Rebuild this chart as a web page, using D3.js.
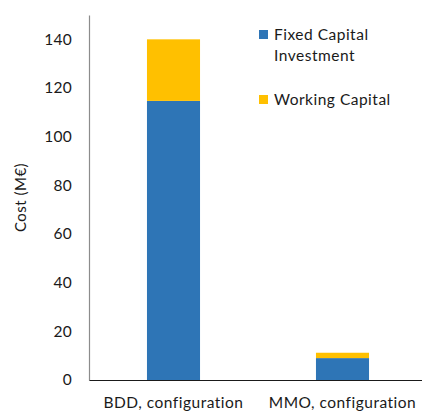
<!DOCTYPE html>
<html>
<head>
<meta charset="utf-8">
<script src="https://cdn.jsdelivr.net/npm/d3@7"></script>
<style>
  body { margin: 0; background: #fff; }
  text { font-family: Lato, "Open Sans", sans-serif; fill: #1a1a1a; }
</style>
</head>
<body>
<script>
// chart values
var categories = ["BDD, configuration", "MMO, configuration"];
var fixedCapital = [114.7, 9.0];
var workingCapital = [25.3, 2.2];
var seriesNames = ["Fixed Capital Investment", "Working Capital"];
var yTicks = [0, 20, 40, 60, 80, 100, 120, 140];

var width = 422, height = 412;
var margin = {top: 15, right: -5, bottom: 32, left: 89};

var colors = ["#2e75b6", "#ffc000"];

var svg = d3.select("body").append("svg")
  .attr("width", width)
  .attr("height", height);

var x = d3.scaleBand()
  .domain(categories)
  .range([margin.left, width - margin.right])
  .paddingInner(0.686)
  .paddingOuter(0.343);

var y = d3.scaleLinear()
  .domain([0, 150])
  .range([height - margin.bottom, margin.top]);

var rows = categories.map(function(c, i) {
  return { cat: c, fixed: fixedCapital[i], working: workingCapital[i] };
});

var stack = d3.stack().keys(["fixed", "working"]);
var layers = stack(rows);

svg.selectAll("g.layer")
  .data(layers)
  .enter().append("g")
  .attr("class", "layer")
  .attr("fill", function(d, i) { return colors[i]; })
  .selectAll("rect")
  .data(function(d) { return d; })
  .enter().append("rect")
  .attr("x", function(d) { return x(d.data.cat); })
  .attr("width", x.bandwidth())
  .attr("y", function(d) { return y(d[1]); })
  .attr("height", function(d) { return y(d[0]) - y(d[1]); });

// y axis
var yAxis = d3.axisLeft(y).tickValues(yTicks).tickSize(0).tickPadding(17);
var gy = svg.append("g")
  .attr("transform", "translate(" + margin.left + ",0)")
  .call(yAxis);
gy.select(".domain").attr("stroke", "#8c8c8c").attr("stroke-width", 1.2);
gy.selectAll(".tick text").attr("font-size", 15.5).attr("fill", "#1a1a1a")
  .attr("font-family", "Lato, sans-serif").attr("letter-spacing", "0.3px");

// x axis
var xAxis = d3.axisBottom(x).tickSize(0).tickPadding(17);
var gx = svg.append("g")
  .attr("transform", "translate(0," + y(0) + ")")
  .call(xAxis);
gx.select(".domain").attr("stroke", "#1a1a1a").attr("stroke-width", 1.2);
gx.selectAll(".tick text").attr("font-size", 15.5).attr("fill", "#1a1a1a")
  .attr("font-family", "Lato, sans-serif").attr("letter-spacing", "0.5px");

// y label
svg.append("text")
  .attr("transform", "translate(26," + (margin.top + (y(0) - margin.top) / 2) + ") rotate(-90)")
  .attr("text-anchor", "middle")
  .attr("font-size", 15)
  .attr("letter-spacing", "0.5px")
  .text("Cost (M€)");

// legend
var legend = [
  { lines: ["Fixed Capital", "Investment"], color: colors[0], y: 35 },
  { lines: ["Working Capital"], color: colors[1], y: 100 }
];
var lg = svg.selectAll("g.legend")
  .data(legend)
  .enter().append("g")
  .attr("class", "legend")
  .attr("transform", function(d) { return "translate(259," + d.y + ")"; });
lg.append("rect")
  .attr("x", 0).attr("y", -5)
  .attr("width", 9).attr("height", 9)
  .attr("fill", function(d) { return d.color; });
lg.each(function(d) {
  var t = d3.select(this).append("text")
    .attr("x", 15)
    .attr("font-size", 15.5)
    .attr("letter-spacing", "0.5px");
  d.lines.forEach(function(l, i) {
    t.append("tspan").attr("x", 15).attr("dy", i === 0 ? "0.35em" : 21).text(l);
  });
});
</script>
</body>
</html>
